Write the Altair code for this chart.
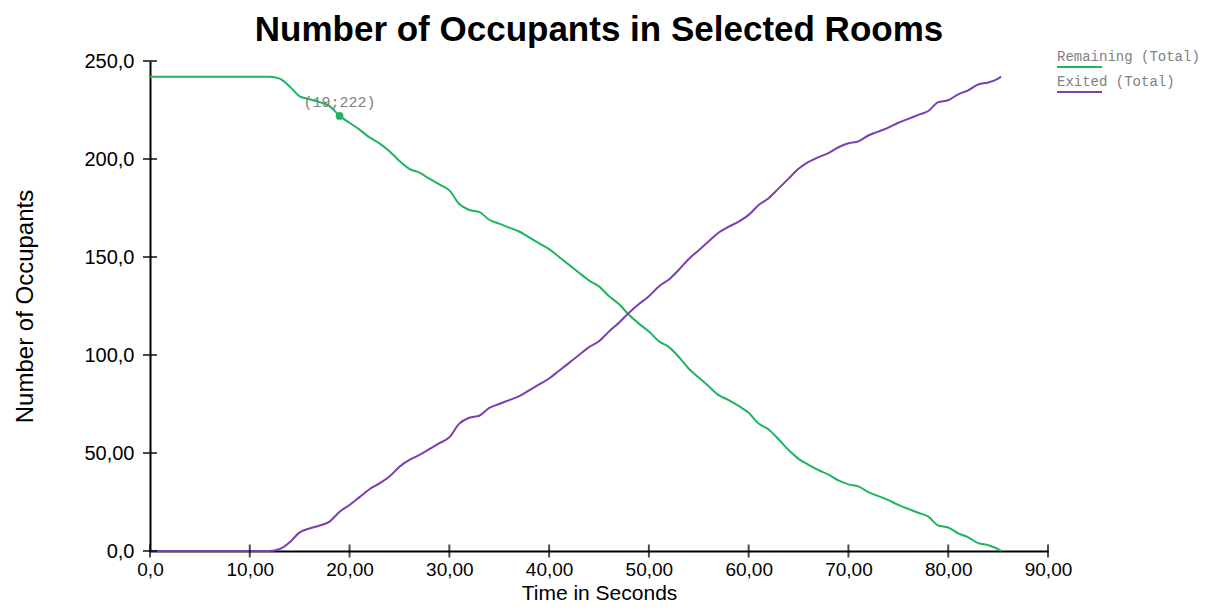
import altair as alt
import pandas as pd

# ---- data ----
time = [0, 12, 13, 14, 15, 16, 17, 18, 19, 20, 21, 22, 23, 24, 25, 26, 27, 28, 29, 30,
        31, 32, 33, 34, 35, 36, 37, 38, 39, 40, 41, 42, 43, 44, 45, 46, 47, 48, 49, 50,
        51, 52, 53, 54, 55, 56, 57, 58, 59, 60, 61, 62, 63, 64, 65, 66, 67, 68, 69, 70,
        71, 72, 73, 74, 75, 76, 77, 78, 79, 80, 81, 82, 83, 84, 85, 85.3]
remaining = [242, 242, 241, 237, 232, 230.5, 229, 227, 222, 218.5, 215, 211, 208, 204, 199, 195, 193, 190, 187, 184,
             177, 174, 173, 169, 167, 165, 163, 160, 157, 154, 150, 146, 142, 138, 135, 130, 126, 120.5, 116, 112,
             107, 104, 99, 93, 88.5, 84, 79.5, 77, 74, 70.5, 65, 62, 57, 51.5, 47, 44, 41.3, 39, 36, 34,
             33, 30, 28, 26, 23.5, 21.5, 19.5, 17.5, 13, 12, 9, 7, 4, 3, 1, 0]
exited = [0, 0, 1, 4.5, 9.5, 11.5, 13, 15, 20, 23.5, 27.5, 31.5, 34.5, 38, 43, 46.5, 49, 52, 55, 58,
          65, 68, 69, 73, 75, 77, 79, 82, 85, 88, 92, 96, 100, 104, 107, 112, 116.5, 121.5, 126, 130,
          135, 138.5, 143.5, 149, 153.5, 158, 162.5, 165.5, 168, 171.5, 176.5, 180, 185, 190, 195, 198.5, 201, 203, 206, 208,
          209, 212, 214, 216, 218.5, 220.5, 222.5, 224.5, 229, 230, 233, 235, 238, 239, 241, 242]

series_names = ["Remaining (Total)", "Exited (Total)"]
series_colors = ["#1fb45f", "#7a3fb0"]

x_ticks = [0, 10, 20, 30, 40, 50, 60, 70, 80, 90]
x_tick_labels = ["0,0", "10,00", "20,00", "30,00", "40,00", "50,00", "60,00", "70,00", "80,00", "90,00"]
y_ticks = [0, 50, 100, 150, 200, 250]
y_tick_labels = ["0,0", "50,00", "100,0", "150,0", "200,0", "250,0"]

marker_t = [19]
marker_v = [222]
marker_label = ["(19;222)"]

# ---- build tables ----
df = pd.concat([
    pd.DataFrame({"t": time, "v": remaining, "s": series_names[0]}),
    pd.DataFrame({"t": time, "v": exited, "s": series_names[1]}),
])
df_marker = pd.DataFrame({"t": marker_t, "v": marker_v, "lab": marker_label})
df_xt = pd.DataFrame({"t": x_ticks, "v": [0] * len(x_ticks)})
df_yt = pd.DataFrame({"t": [0] * len(y_ticks), "v": y_ticks})


def label_expr(vals, labs):
    expr = "''"
    for v, l in reversed(list(zip(vals, labs))):
        expr = f"datum.value == {v} ? '{l}' : ({expr})"
    return expr


xscale = alt.Scale(domain=[0, 90], nice=False, zero=False)
yscale = alt.Scale(domain=[0, 250], nice=False)
color_scale = alt.Scale(domain=series_names, range=series_colors)

FONT = "Liberation Sans"
MONO = "Liberation Mono"

x_enc = alt.X("t:Q", scale=xscale, title="Time in Seconds",
              axis=alt.Axis(values=x_ticks, labelExpr=label_expr(x_ticks, x_tick_labels),
                            ticks=False, labelFlush=False, labelPadding=9, labelFontSize=19,
                            titlePadding=3, titleFontSize=21))
y_enc = alt.Y("v:Q", scale=yscale, title="Number of Occupants",
              axis=alt.Axis(values=y_ticks, labelExpr=label_expr(y_ticks, y_tick_labels),
                            ticks=False, labelFlush=False, labelPadding=16, titlePadding=46))

lines = alt.Chart(df).mark_line(strokeWidth=2, interpolate="monotone").encode(
    x=x_enc, y=y_enc,
    color=alt.Color("s:N", scale=color_scale, legend=None),
    detail="s:N",
)

marker = alt.Chart(df_marker).mark_circle(size=60, opacity=1, color=series_colors[0]).encode(
    x=alt.X("t:Q", scale=xscale), y=alt.Y("v:Q", scale=yscale))
marker_text = alt.Chart(df_marker).mark_text(font=MONO, fontSize=15, color="#808080", dy=-14).encode(
    x=alt.X("t:Q", scale=xscale), y=alt.Y("v:Q", scale=yscale), text="lab:N")

xt = alt.Chart(df_xt).mark_tick(orient="vertical", size=13, thickness=2, color="black").encode(
    x=alt.X("t:Q", scale=xscale), y=alt.Y("v:Q", scale=yscale))
yt = alt.Chart(df_yt).mark_tick(orient="horizontal", size=14, thickness=2, color="black").encode(
    x=alt.X("t:Q", scale=xscale), y=alt.Y("v:Q", scale=yscale))

legend_layers = []
for i, (name, col) in enumerate(zip(series_names, series_colors)):
    ldf = pd.DataFrame({"s": [name]})
    ty = -4 + i * 25
    legend_layers.append(
        alt.Chart(ldf).mark_text(font=MONO, fontSize=14, color="#808080", align="left", baseline="middle").encode(
            x=alt.value(907), y=alt.value(ty), text="s:N"))
    legend_layers.append(
        alt.Chart(ldf).mark_rule(strokeWidth=2, color=col).encode(
            x=alt.value(907), x2=alt.value(952), y=alt.value(ty + 10)))

chart = alt.layer(lines, xt, yt, marker, marker_text, *legend_layers).properties(
    width=898, height=490,
    title=alt.Title("Number of Occupants in Selected Rooms", font=FONT, fontSize=35,
                    fontWeight="bold", color="black", anchor="middle", frame="group", offset=2),
    autosize=alt.AutoSizeParams(type="none"),
    padding={"left": 142, "top": 53, "right": 158, "bottom": 55},
).configure_view(stroke=None).configure_axis(
    grid=False, domainColor="black", domainWidth=2,
    labelFont=FONT, labelFontSize=20, labelColor="black",
    titleFont=FONT, titleFontSize=24, titleFontWeight="normal", titleColor="black",
)

chart.save("out.html", embed_options={"renderer": "svg", "actions": False})
